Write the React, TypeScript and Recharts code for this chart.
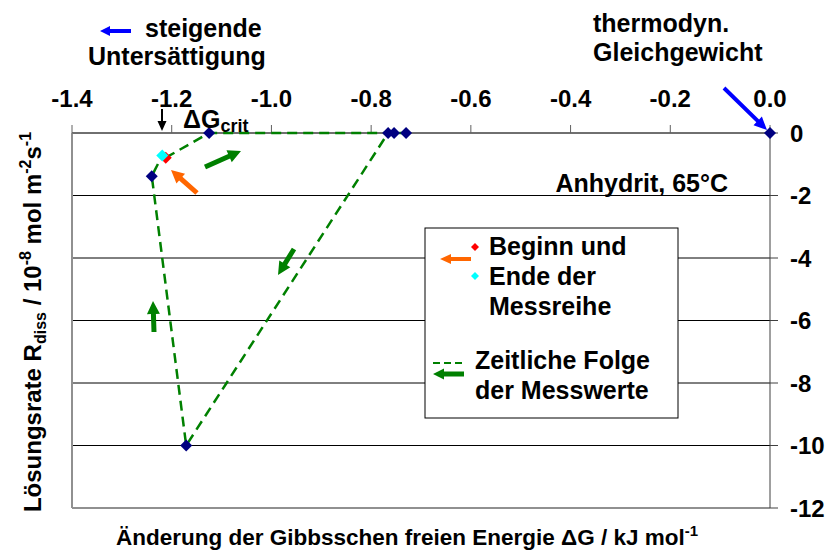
import React from "react";
import {
  ScatterChart,
  Scatter,
  XAxis,
  YAxis,
  CartesianGrid,
  ReferenceLine,
} from "recharts";

const FONT = "'Liberation Sans', Arial, Helvetica, sans-serif";

// axis ticks
const dgTicks = [-1.4, -1.2, -1.0, -0.8, -0.6, -0.4, -0.2, 0];
const rateTicks = [0, -2, -4, -6, -8, -10, -12];

// measured points: ΔG (kJ/mol) and R_diss (10^-8 mol m^-2 s^-1)
const pointDG = [-1.125, -0.766, -0.754, -0.73, 0, -1.171, -1.24];
const pointRate = [0, 0, 0, 0, 0, -10, -1.38];

// temporal order of the measurements (dashed path)
const seqDG = [-1.212, -1.125, -0.73, -0.754, -0.766, -1.171, -1.24, -1.219];
const seqRate = [-0.79, 0, 0, 0, 0, -10, -1.38, -0.72];

// start / end of the series
const startDG = [-1.212];
const startRate = [-0.79];
const endDG = [-1.219];
const endRate = [-0.72];

const zip = (xs: number[], ys: number[]) => xs.map((x, i) => ({ x, y: ys[i] }));

const points = zip(pointDG, pointRate);
const sequence = zip(seqDG, seqRate);
const startPoint = zip(startDG, startRate);
const endPoint = zip(endDG, endRate);

const diamond = (fill: string, r: number) => (props: any) => {
  const { cx, cy } = props;
  if (cx == null || cy == null) return <g />;
  return (
    <polygon
      points={`${cx},${cy - r} ${cx + r},${cy} ${cx},${cy + r} ${cx - r},${cy}`}
      fill={fill}
    />
  );
};

// filled arrow polygon from tail (x1,y1) to tip (x2,y2)
function Arrow({
  x1, y1, x2, y2, color, w = 4, hl = 12, hw = 12,
}: {
  x1: number; y1: number; x2: number; y2: number; color: string;
  w?: number; hl?: number; hw?: number;
}) {
  const dx = x2 - x1;
  const dy = y2 - y1;
  const len = Math.hypot(dx, dy);
  const ux = dx / len;
  const uy = dy / len;
  const nx = -uy;
  const ny = ux;
  const bx = x2 - ux * hl;
  const by = y2 - uy * hl;
  const p = [
    [x1 + (nx * w) / 2, y1 + (ny * w) / 2],
    [bx + (nx * w) / 2, by + (ny * w) / 2],
    [bx + (nx * hw) / 2, by + (ny * hw) / 2],
    [x2, y2],
    [bx - (nx * hw) / 2, by - (ny * hw) / 2],
    [bx - (nx * w) / 2, by - (ny * w) / 2],
    [x1 - (nx * w) / 2, y1 - (ny * w) / 2],
  ];
  return <polygon points={p.map((q) => q.join(",")).join(" ")} fill={color} />;
}

const txt = {
  fontFamily: FONT,
  fontWeight: "bold" as const,
  fill: "#000",
};

function T({
  x, y, size = 25, anchor = "start", children,
}: {
  x: number; y: number; size?: number; anchor?: "start" | "middle" | "end";
  children: React.ReactNode;
}) {
  return (
    <text x={x} y={y} fontSize={size} textAnchor={anchor} {...txt}>
      {children}
    </text>
  );
}

const TopTick = (props: any) => {
  const { x, y, payload } = props;
  return (
    <T x={x} y={y} size={24} anchor="middle">
      {Number(payload.value).toFixed(1)}
    </T>
  );
};

const RightTick = (props: any) => {
  const { x, y, payload } = props;
  return (
    <T x={x} y={y + 8.5} size={24} anchor="start">
      {payload.value}
    </T>
  );
};

export default function App() {
  return (
    <div style={{ position: "relative", width: 828, height: 550, background: "#fff" }}>
      <style>{"body{margin:0}"}</style>
      <ScatterChart
        width={828}
        height={550}
        margin={{ top: 103, right: 8, bottom: 42, left: 72 }}
      >
        <CartesianGrid vertical={false} stroke="#000" strokeWidth={1} />
        <XAxis
          type="number"
          dataKey="x"
          orientation="top"
          domain={[-1.4, 0]}
          ticks={dgTicks}
          height={30}
          stroke="#606060"
          tickSize={8}
          tickMargin={18}
          tick={<TopTick />}
        />
        <YAxis
          type="number"
          dataKey="y"
          orientation="right"
          domain={[-12, 0]}
          ticks={rateTicks}
          width={50}
          stroke="#404040"
          tickSize={8}
          tickMargin={12}
          tick={<RightTick />}
        />
        <ReferenceLine x={-1.4} stroke="#909090" strokeWidth={2} />
        <ReferenceLine y={-12} stroke="#909090" strokeWidth={2} />
        <Scatter
          data={sequence}
          line={{ stroke: "#008000", strokeWidth: 2.5, strokeDasharray: "10 6" }}
          shape={() => <g />}
          isAnimationActive={false}
        />
        <Scatter data={points} shape={diamond("#000080", 6)} isAnimationActive={false} />
        <Scatter data={startPoint} shape={diamond("#ff0000", 6)} isAnimationActive={false} />
        <Scatter data={endPoint} shape={diamond("#00ffff", 6)} isAnimationActive={false} />
      </ScatterChart>

      <svg
        width={828}
        height={550}
        style={{ position: "absolute", left: 0, top: 0, pointerEvents: "none" }}
      >
        {/* top annotations */}
        <Arrow x1={131} y1={31} x2={100} y2={31} color="#0000ff" w={4} hl={10} hw={10} />
        <T x={145} y={37}>steigende</T>
        <T x={88} y={65}>Untersättigung</T>
        <T x={593} y={32}>thermodyn.</T>
        <T x={593} y={61}>Gleichgewicht</T>
        <Arrow x1={724} y1={88} x2={767} y2={130} color="#0000ff" w={4} hl={13} hw={12} />

        {/* ΔG crit */}
        <Arrow x1={162} y1={109} x2={162} y2={131} color="#000" w={2} hl={10} hw={9} />
        <T x={183} y={128}>
          ΔG<tspan fontSize={18} dy={4}>crit</tspan>
        </T>

        <T x={728} y={192} anchor="end">Anhydrit, 65°C</T>

        {/* arrows along the path */}
        <Arrow x1={205} y1={167} x2={241} y2={151} color="#008000" w={5} hl={13} hw={13} />
        <Arrow x1={294} y1={249} x2={278} y2={275} color="#008000" w={5} hl={13} hw={13} />
        <Arrow x1={154} y1={332} x2={153} y2={301} color="#008000" w={5} hl={13} hw={13} />
        <Arrow x1={197} y1={193} x2={171} y2={170} color="#ff6600" w={5} hl={13} hw={13} />

        {/* legend box */}
        <rect x={425} y={228} width={253} height={190} fill="#fff" stroke="#000" strokeWidth={1} />
        <polygon points="475,243 479,247 475,251 471,247" fill="#ff0000" />
        <polygon points="475,272 479,276 475,280 471,276" fill="#00ffff" />
        <Arrow x1={471} y1={259} x2={440} y2={259} color="#ff6600" w={4} hl={11} hw={10} />
        <T x={489} y={255}>Beginn und</T>
        <T x={489} y={285}>Ende der</T>
        <T x={489} y={315}>Messreihe</T>
        <line x1={433} y1={363} x2={466} y2={363} stroke="#008000" strokeWidth={2} strokeDasharray="7 4" />
        <Arrow x1={464} y1={374} x2={433} y2={374} color="#008000" w={5} hl={11} hw={11} />
        <T x={475} y={369}>Zeitliche Folge</T>
        <T x={475} y={399}>der Messwerte</T>

        {/* axis titles */}
        <T x={116} y={545} size={22.5}>
          Änderung der Gibbsschen freien Energie ΔG / kJ mol
          <tspan fontSize={15} dy={-9}>-1</tspan>
        </T>
        <g transform="translate(41,322) rotate(-90)">
          <text x={0} y={0} textAnchor="middle" fontSize={24} {...txt}>
            Lösungsrate R<tspan fontSize={16} dy={5}>diss</tspan>
            <tspan dy={-5}> / 10</tspan>
            <tspan fontSize={16} dy={-10}>-8</tspan>
            <tspan dy={10}> mol m</tspan>
            <tspan fontSize={16} dy={-10}>-2</tspan>
            <tspan dy={10}>s</tspan>
            <tspan fontSize={16} dy={-10}>-1</tspan>
          </text>
        </g>
      </svg>
    </div>
  );
}
